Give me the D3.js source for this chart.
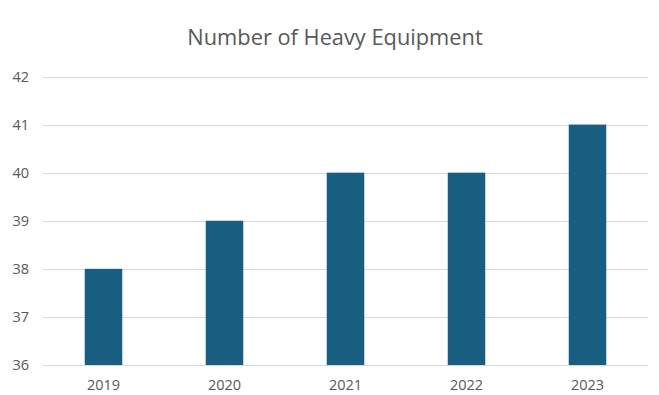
<!DOCTYPE html>
<html><head><meta charset="utf-8">
<script src="https://cdn.jsdelivr.net/npm/d3@7"></script>
<style>body{margin:0;background:#fff}svg{display:block}</style>
</head><body>
<svg id="c" width="659" height="395"></svg>
<script>
const categories = ["2019","2020","2021","2022","2023"];
const values = [38,39,40,40,41];
const yTicks = [36,37,38,39,40,41,42];
const title = "Number of Heavy Equipment";

const svg = d3.select("#c");
const W = 659, H = 395;
const m = {left:43, right:11, top:76.5, bottom:30};
const x = d3.scaleBand().domain(categories).range([m.left, W-m.right]).paddingInner(0.69).paddingOuter(0.345);
const y = d3.scaleLinear().domain([36,42]).range([365, 76.5]);
const font = "'Open Sans', 'Liberation Sans', sans-serif";

svg.append("g").selectAll("line").data(yTicks).join("line")
  .attr("x1", m.left).attr("x2", W-m.right)
  .attr("y1", d=>Math.round(y(d))+0.5).attr("y2", d=>Math.round(y(d))+0.5)
  .attr("stroke", "#d9d9d9").attr("stroke-width", 1);

svg.append("g").selectAll("text").data(yTicks).join("text")
  .attr("x", 29).attr("y", d=>y(d)).attr("dy","0.35em")
  .attr("text-anchor","end").attr("font-family", font).attr("font-size", 14.5).attr("fill","#595959")
  .text(d=>d);

svg.append("g").selectAll("rect").data(values).join("rect")
  .attr("x", (d,i)=>x(categories[i])).attr("width", x.bandwidth())
  .attr("y", d=>y(d)).attr("height", d=>y(36)-y(d))
  .attr("fill", "#175e80");

svg.append("g").selectAll("text").data(categories).join("text")
  .attr("x", d=>x(d)+x.bandwidth()/2).attr("y", 385).attr("dy","0.35em")
  .attr("text-anchor","middle").attr("font-family", font).attr("font-size", 14.5).attr("fill","#595959")
  .text(d=>d);

svg.append("text").attr("x", 335).attr("y", 37.5).attr("dy","0.35em")
  .attr("text-anchor","middle").attr("font-family", font).attr("font-size", 21.8).attr("fill","#595959")
  .text(title);
</script>
</body></html>
